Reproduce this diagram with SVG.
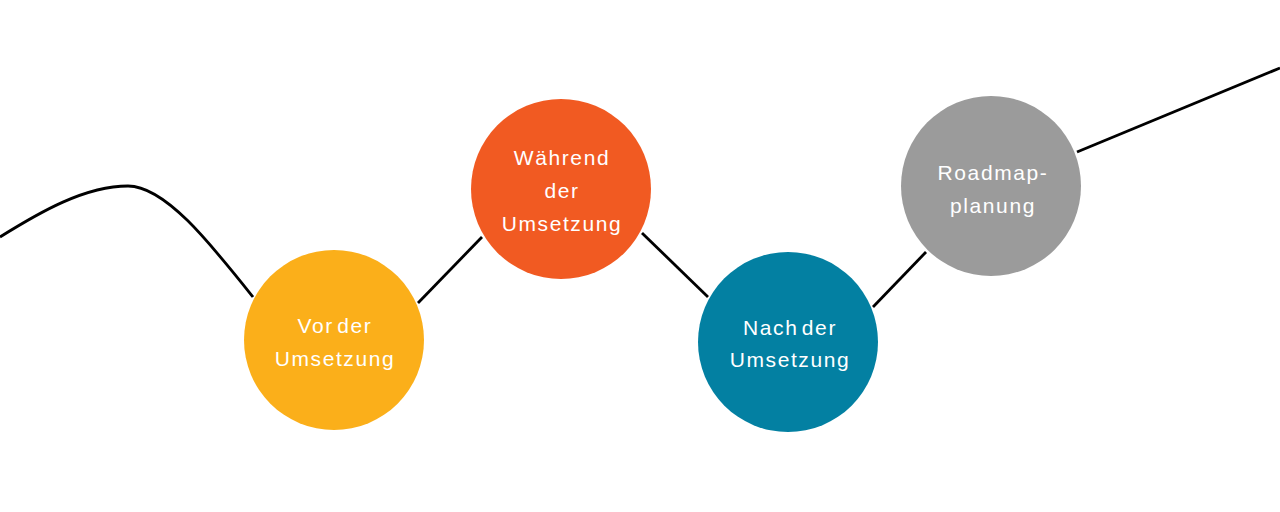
<svg xmlns="http://www.w3.org/2000/svg" width="1280" height="512" viewBox="0 0 1280 512">
<style>
.edge{fill:none;stroke:#000;stroke-width:2.8}
.lbl{font-family:"Liberation Sans",Arial,sans-serif;font-size:21px;fill:#fff;text-anchor:middle;letter-spacing:1.6px;word-spacing:-4px}
</style>
<rect width="1280" height="512" fill="#fff"/>
<g id="connectors">
<path class="edge" d="M0,237 C40,212 85,186 128,186 C165,186 210,243 253,297"/>
<path class="edge" d="M418,303 L482,237"/>
<path class="edge" d="M642,233 L708,297"/>
<path class="edge" d="M873,307 L926,252"/>
<path class="edge" d="M1077,152 L1280,68"/>
</g>
<g id="node-vor">
<circle cx="334" cy="340" r="90" fill="#FBAF1A"/>
<text class="lbl" x="335" y="333">Vor der</text>
<text class="lbl" x="335" y="366">Umsetzung</text>
</g>
<g id="node-waehrend">
<circle cx="561" cy="189" r="90" fill="#F15A22"/>
<text class="lbl" x="562" y="165">Während</text>
<text class="lbl" x="562" y="198">der</text>
<text class="lbl" x="562" y="231">Umsetzung</text>
</g>
<g id="node-nach">
<circle cx="788" cy="342" r="90" fill="#0380A2"/>
<text class="lbl" x="790" y="335">Nach der</text>
<text class="lbl" x="790" y="367">Umsetzung</text>
</g>
<g id="node-roadmap">
<circle cx="991" cy="186" r="90" fill="#9B9B9B"/>
<text class="lbl" x="993" y="180">Roadmap-</text>
<text class="lbl" x="993" y="213">planung</text>
</g>
</svg>
